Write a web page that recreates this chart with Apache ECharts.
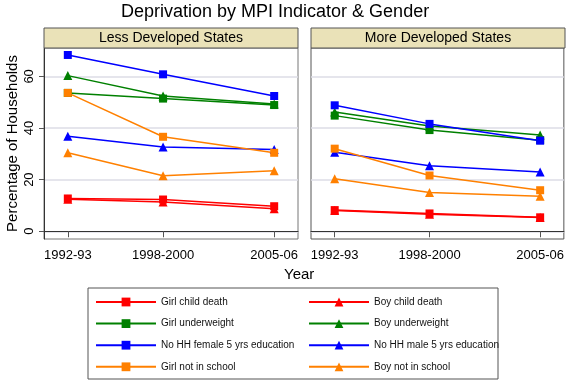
<!DOCTYPE html>
<html>
<head>
<meta charset="utf-8">
<script src="https://cdn.jsdelivr.net/npm/echarts@6/dist/echarts.min.js"></script>
<style>
  html, body { margin: 0; padding: 0; background: #fff; }
  #chart { width: 567px; height: 381px; }
</style>
</head>
<body>
<div id="chart"></div>
<script>
// x positions of the three survey rounds and their labels
const years = [1993, 1999, 2006];
const yearLabels = ['1992-93', '1998-2000', '2005-06'];
const yTicks = [0, 20, 40, 60];

const indicators = [
  'Girl child death', 'Boy child death',
  'Girl underweight', 'Boy underweight',
  'No HH female 5 yrs education', 'No HH male 5 yrs education',
  'Girl not in school', 'Boy not in school'
];

// Less developed states
const lessGirlDeath = [12.7, 12.3, 9.7];
const lessBoyDeath = [12.4, 11.3, 8.7];
const lessGirlUnder = [53.6, 51.4, 48.9];
const lessBoyUnder = [60.3, 52.4, 49.3];
const lessFemaleEdu = [68.3, 60.8, 52.4];
const lessMaleEdu = [36.8, 32.6, 31.7];
const lessGirlSchool = [53.6, 36.6, 30.4];
const lessBoySchool = [30.4, 21.5, 23.4];

// More developed states
const moreGirlDeath = [8.2, 6.9, 5.4];
const moreBoyDeath = [8.0, 6.6, 5.3];
const moreGirlUnder = [44.8, 39.2, 35.3];
const moreBoyUnder = [46.2, 40.8, 37.3];
const moreFemaleEdu = [48.8, 41.6, 35.1];
const moreMaleEdu = [30.6, 25.4, 23.0];
const moreGirlSchool = [32.0, 21.6, 15.9];
const moreBoySchool = [20.3, 15.0, 13.6];

const lessValues = [lessGirlDeath, lessBoyDeath, lessGirlUnder, lessBoyUnder,
  lessFemaleEdu, lessMaleEdu, lessGirlSchool, lessBoySchool];
const moreValues = [moreGirlDeath, moreBoyDeath, moreGirlUnder, moreBoyUnder,
  moreFemaleEdu, moreMaleEdu, moreGirlSchool, moreBoySchool];

const colors = ['#ff0000', '#ff0000', '#008000', '#008000', '#0000ff', '#0000ff', '#ff8000', '#ff8000'];
const font = 'Liberation Sans, Arial, sans-serif';

function makeSeries(values, gridIdx) {
  return values.map((vals, i) => ({
    name: indicators[i],
    type: 'line',
    xAxisIndex: gridIdx,
    yAxisIndex: gridIdx,
    data: years.map((y, j) => [y, vals[j]]),
    symbol: i % 2 === 0 ? 'rect' : 'triangle',
    symbolSize: i % 2 === 0 ? 8 : 9,
    showSymbol: true,
    animation: false,
    color: colors[i],
    lineStyle: { width: 1.5, color: colors[i] },
    itemStyle: { color: colors[i] }
  }));
}

function xAxis(gridIdx) {
  return {
    type: 'value', gridIndex: gridIdx, min: 1991.5, max: 2007.5,
    axisLine: { show: true, lineStyle: { color: '#333', width: 1 } },
    axisTick: { show: true, length: 6, customValues: years, lineStyle: { color: '#555' } },
    axisLabel: {
      customValues: years, margin: 10, fontSize: 13, color: '#000', fontFamily: font,
      formatter: v => yearLabels[years.indexOf(v)] || ''
    },
    splitLine: { show: false }
  };
}

function yAxis(gridIdx) {
  const ax = {
    type: 'value', gridIndex: gridIdx, min: -3, max: 71, interval: 20,
    axisLine: { show: gridIdx === 0, lineStyle: { color: '#333', width: 1 } },
    axisTick: { show: gridIdx === 0, length: 5, customValues: yTicks, lineStyle: { color: '#555' } },
    axisLabel: {
      show: gridIdx === 0, customValues: yTicks, rotate: 90, margin: 8,
      fontSize: 13, color: '#000', fontFamily: font
    },
    splitLine: { show: true, lineStyle: { color: '#dcdce6', width: 1.5 } }
  };
  if (gridIdx === 0) {
    ax.name = 'Percentage of Households';
    ax.nameLocation = 'middle';
    ax.nameGap = 24;
    ax.nameTextStyle = { fontSize: 15, color: '#000', fontFamily: font };
  }
  return ax;
}

const chart = echarts.init(document.getElementById('chart'));
chart.setOption({
  backgroundColor: '#fff',
  animation: false,
  title: [
    { text: 'Deprivation by MPI Indicator & Gender', left: 116, top: -2,
      textStyle: { fontSize: 18, fontWeight: 'normal', color: '#000', fontFamily: font } },
    { text: 'Year', left: 279, top: 262,
      textStyle: { fontSize: 15, fontWeight: 'normal', color: '#000', fontFamily: font } }
  ],
  grid: [
    { left: 44, top: 48, width: 254, height: 191, show: true, borderColor: '#777', borderWidth: 1 },
    { left: 311, top: 48, width: 254, height: 191, show: true, borderColor: '#555', borderWidth: 1 }
  ],
  xAxis: [xAxis(0), xAxis(1)],
  yAxis: [yAxis(0), yAxis(1)],
  legend: [
    { data: indicators.filter((_, i) => i % 2 === 0), orient: 'vertical', left: 90, top: 292,
      itemWidth: 60, itemHeight: 11, itemGap: 11.6,
      textStyle: { fontSize: 10, color: '#111', fontFamily: font } },
    { data: indicators.filter((_, i) => i % 2 === 1), orient: 'vertical', left: 303, top: 292,
      itemWidth: 60, itemHeight: 11, itemGap: 11.6,
      textStyle: { fontSize: 10, color: '#111', fontFamily: font } }
  ],
  graphic: [
    { type: 'rect', z: 100, shape: { x: 44, y: 28, width: 254, height: 20 },
      style: { fill: '#eae2b8', stroke: '#555', lineWidth: 1 } },
    { type: 'text', z: 101, x: 171, y: 38,
      style: { text: 'Less Developed States', fontSize: 14, fill: '#000', fontFamily: font,
        align: 'center', verticalAlign: 'middle' } },
    { type: 'rect', z: 100, shape: { x: 311, y: 28, width: 254, height: 20 },
      style: { fill: '#eae2b8', stroke: '#555', lineWidth: 1 } },
    { type: 'text', z: 101, x: 438, y: 38,
      style: { text: 'More Developed States', fontSize: 14, fill: '#000', fontFamily: font,
        align: 'center', verticalAlign: 'middle' } },
    { type: 'rect', z: 0, shape: { x: 88, y: 288, width: 410, height: 91 },
      style: { fill: 'none', stroke: '#555', lineWidth: 1 } }
  ],
  series: makeSeries(lessValues, 0).concat(makeSeries(moreValues, 1))
});
</script>
</body>
</html>
